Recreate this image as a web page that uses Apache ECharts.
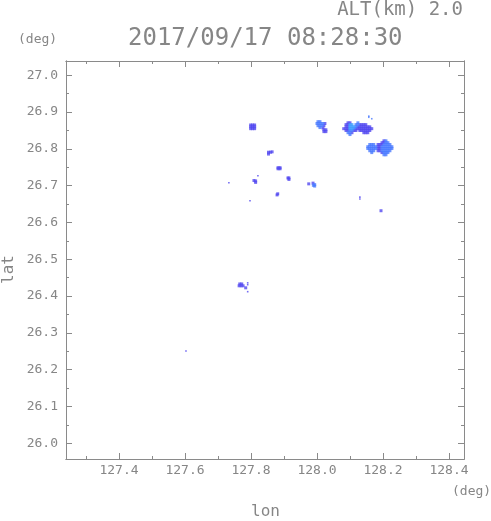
<!DOCTYPE html>
<html>
<head>
<meta charset="utf-8">
<script src="https://cdn.jsdelivr.net/npm/echarts@6/dist/echarts.min.js"></script>
<style>html,body{margin:0;padding:0;background:#fff;}#c{width:491px;height:521px;}</style>
</head>
<body>
<div id="c"></div>
<script>
// Axis ranges and tick values (deg)
const lonRange = [127.2394, 128.4455];
const latRange = [25.9573, 27.0389];
const lonMajor = [127.4, 127.6, 127.8, 128.0, 128.2, 128.4];
const lonMinor = [127.3, 127.5, 127.7, 127.9, 128.1, 128.3];
const latMajor = [26.0, 26.1, 26.2, 26.3, 26.4, 26.5, 26.6, 26.7, 26.8, 26.9, 27.0];
const latMinor = [26.05, 26.15, 26.25, 26.35, 26.45, 26.55, 26.65, 26.75, 26.85, 26.95];

// Echo cells [lon, lat] by intensity level
const darkCells = [
  [127.799,26.865],[127.805,26.865],[127.811,26.865],[127.799,26.860],[127.805,26.860],[127.811,26.860],[127.799,26.855],[127.805,26.855],[127.811,26.855],
  [128.024,26.869],[128.021,26.863],[128.018,26.857],[128.021,26.852],[128.027,26.852],[128.021,26.847],[128.027,26.847],
  [128.094,26.871],[128.100,26.871],
  [128.088,26.866],[128.094,26.866],[128.130,26.866],[128.136,26.866],[128.142,26.866],[128.148,26.866],
  [128.088,26.860],[128.094,26.860],[128.124,26.860],[128.130,26.860],[128.136,26.860],[128.142,26.860],[128.148,26.860],[128.154,26.860],[128.160,26.860],
  [128.081,26.855],[128.088,26.855],[128.094,26.855],[128.118,26.855],[128.124,26.855],[128.130,26.855],[128.136,26.855],[128.142,26.855],[128.148,26.855],[128.154,26.855],[128.160,26.855],[128.166,26.855],
  [128.088,26.850],[128.094,26.850],[128.112,26.850],[128.118,26.850],[128.130,26.850],[128.136,26.850],[128.142,26.850],[128.148,26.850],[128.154,26.850],[128.160,26.850],
  [128.106,26.844],[128.142,26.844],[128.148,26.844],[128.154,26.844],
  [128.203,26.822],
  [128.197,26.817],[128.203,26.817],
  [128.185,26.812],[128.191,26.812],[128.197,26.812],
  [128.185,26.806],[128.191,26.806],
  [128.185,26.801],[128.191,26.801],
  [128.185,26.795],[128.191,26.795],
  [128.197,26.790],
  [127.853,26.791],[127.859,26.791],[127.864,26.792],[127.853,26.786],
  [127.882,26.749],[127.888,26.749],[127.882,26.746],[127.888,26.746],
  [127.912,26.721],[127.915,26.721],[127.915,26.717],
  [127.809,26.714],[127.814,26.713],[127.814,26.709],
  [127.975,26.705],[127.988,26.707],
  [127.881,26.678],[127.879,26.675],
  [128.194,26.632],
  [127.766,26.433],[127.772,26.433],[127.764,26.428],[127.770,26.428],[127.776,26.428],[127.784,26.4225]
];
const midCells = [
  [128.003,26.874],[128.009,26.874],
  [128.000,26.869],[128.006,26.869],[128.012,26.869],[128.018,26.869],
  [128.003,26.863],[128.009,26.863],[128.015,26.863],
  [128.009,26.858],
  [128.124,26.871],[128.118,26.866],[128.124,26.866],[128.118,26.860],[128.112,26.855],[128.100,26.850],[128.106,26.850],[128.094,26.844],[128.100,26.844],[128.100,26.839],
  [128.209,26.822],
  [128.209,26.817],[128.215,26.817],
  [128.160,26.812],[128.166,26.812],[128.172,26.812],[128.203,26.812],[128.209,26.812],[128.215,26.812],[128.221,26.812],
  [128.154,26.806],[128.160,26.806],[128.166,26.806],[128.172,26.806],[128.178,26.806],[128.197,26.806],[128.203,26.806],[128.209,26.806],[128.215,26.806],[128.221,26.806],[128.227,26.806],
  [128.154,26.801],[128.160,26.801],[128.166,26.801],[128.172,26.801],[128.178,26.801],[128.197,26.801],[128.203,26.801],[128.209,26.801],[128.215,26.801],[128.221,26.801],[128.227,26.801],
  [128.160,26.795],[128.166,26.795],[128.172,26.795],[128.197,26.795],[128.203,26.795],[128.209,26.795],[128.215,26.795],[128.221,26.795],
  [128.166,26.790],[128.203,26.790],[128.209,26.790],[128.215,26.790],
  [128.203,26.784],[128.209,26.784],
  [127.993,26.703],[127.993,26.699],[127.989,26.701]
];
const lightCells = [
  [128.100,26.866],[128.106,26.866],[128.100,26.860],[128.106,26.860],[128.112,26.860],[128.100,26.855],[128.106,26.855]
];
const dotsDark = [
  [127.821,26.727],[127.797,26.659],[128.130,26.669],[128.130,26.664],[127.733,26.708],[127.603,26.251],
  [127.790,26.436],[127.790,26.431],[127.790,26.412]
];
const dotsMid = [[128.157,26.889],[128.157,26.886],[128.166,26.882]];

const FONT = 'DejaVu Sans Mono';
const AX = '#8a8a8a';
const TXT = '#868686';

function xAx(pos, vals, len, labels) {
  return {
    type: 'value', position: pos, min: lonRange[0], max: lonRange[1],
    axisLine: { show: true, onZero: false, lineStyle: { color: AX, width: 1 } },
    axisTick: { show: true, inside: true, length: len, customValues: vals, lineStyle: { color: AX } },
    axisLabel: labels ? { show: true, customValues: vals, formatter: v => v.toFixed(1), margin: 5, color: TXT, fontFamily: FONT, fontSize: 13 } : { show: false },
    splitLine: { show: false }
  };
}
function yAx(pos, vals, len, labels) {
  return {
    type: 'value', position: pos, min: latRange[0], max: latRange[1],
    axisLine: { show: true, onZero: false, lineStyle: { color: AX, width: 1 } },
    axisTick: { show: true, inside: true, length: len, customValues: vals, lineStyle: { color: AX } },
    axisLabel: labels ? { show: true, customValues: vals, formatter: v => v.toFixed(1), margin: 8, color: TXT, fontFamily: FONT, fontSize: 13 } : { show: false },
    splitLine: { show: false }
  };
}
function sc(data, color, size) {
  return { type: 'scatter', xAxisIndex: 0, yAxisIndex: 0, data: data, symbol: 'rect', symbolSize: size,
    itemStyle: { color: color }, silent: true, animation: false };
}

const chart = echarts.init(document.getElementById('c'), null, { renderer: 'canvas' });
chart.setOption({
  animation: false,
  backgroundColor: '#ffffff',
  grid: { left: 66, top: 61, width: 398, height: 398, containLabel: false },
  xAxis: [xAx('bottom', lonMajor, 6, true), xAx('top', lonMajor, 6, false), xAx('bottom', lonMinor, 3, false), xAx('top', lonMinor, 3, false)],
  yAxis: [yAx('left', latMajor, 6, true), yAx('right', latMajor, 6, false), yAx('left', latMinor, 3, false), yAx('right', latMinor, 3, false)],
  series: [
    sc(darkCells, '#5349f0', 3),
    sc(midCells, '#4a7aff', 3),
    sc(lightCells, '#3c9cff', 3),
    sc(dotsDark, '#5349f0', 1.6),
    sc(dotsMid, '#4a7aff', 1.6)
  ],
  graphic: [
    { type: 'text', right: 28, top: 1, style: { text: 'ALT(km) 2.0', fill: TXT, font: '19px "DejaVu Sans Mono"' } },
    { type: 'text', left: 128, top: 27, style: { text: '2017/09/17 08:28:30', fill: TXT, font: '24px "DejaVu Sans Mono"' } },
    { type: 'text', left: 18, top: 33, style: { text: '(deg)', fill: TXT, font: '13px "DejaVu Sans Mono"' } },
    { type: 'text', left: 452, top: 485, style: { text: '(deg)', fill: TXT, font: '13px "DejaVu Sans Mono"' } },
    { type: 'text', left: 251, top: 504, style: { text: 'lon', fill: TXT, font: '16px "DejaVu Sans Mono"' } },
    { type: 'text', x: 1, y: 284, rotation: Math.PI / 2, style: { text: 'lat', fill: TXT, font: '16px "DejaVu Sans Mono"' } }
  ]
});
</script>
</body>
</html>
